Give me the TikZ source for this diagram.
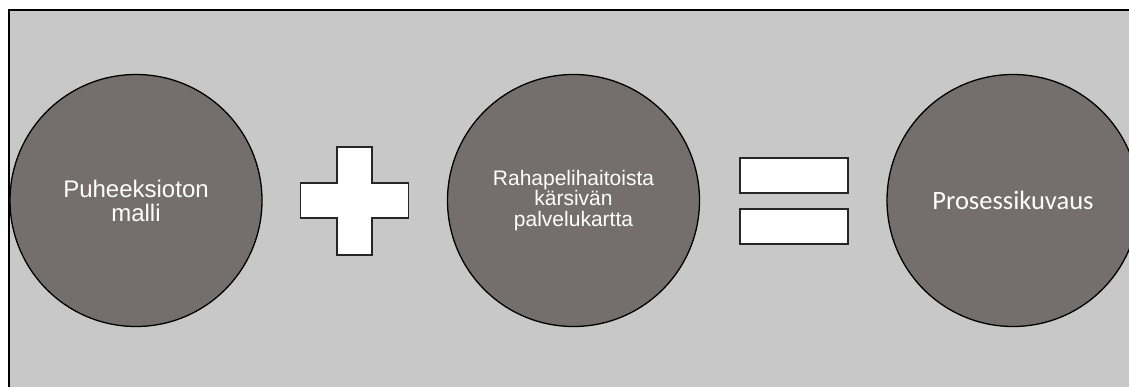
\documentclass[tikz,border=0pt]{standalone}
\usepackage{fontspec}
\setmainfont{Liberation Sans}
\newfontfamily\calfont{Carlito}
\definecolor{bggray}{RGB}{200,200,200}
\definecolor{circgray}{RGB}{116,111,110}
\tikzset{
  bubble/.style={circle, draw=black, line width=1.3pt, fill=circgray, minimum size=252pt, inner sep=0pt, text=white, align=center},
  signbox/.style={draw=black!85, line width=1.3pt, fill=white},
}
\begin{document}
\begin{tikzpicture}[x=1pt,y=-1pt]
\useasboundingbox (0,0) rectangle (1129,387);
\clip (0,0) rectangle (1129,387);
\draw[line width=1.6pt, fill=bggray] (9,10) rectangle (1140,400);
\node[bubble, font=\fontsize{24}{24}\selectfont] (c1) at (136,200.5) {Puheeksioton\\malli};
\node[bubble, font=\fontsize{21}{20.5}\selectfont] (c2) at (573.5,200.5) {Rahapelihaitoista\\kärsivän\\palvelukartta};
\node[bubble, font=\calfont\fontsize{26.5}{26.5}\selectfont] (c3) at (1013,200.5) {Prosessikuvaus};
\draw[signbox] (337,147) -- (372,147) -- (372,183) -- (408.5,183) -- (408.5,218) -- (372,218) -- (372,255) -- (337,255) -- (337,218) -- (300.5,218) -- (300.5,183) -- (337,183) -- cycle;
\node[signbox, minimum width=108pt, minimum height=35pt, inner sep=0pt] (eq1) at (794,175.5) {};
\node[signbox, minimum width=108pt, minimum height=35pt, inner sep=0pt] (eq2) at (794,226.5) {};
\end{tikzpicture}
\end{document}
